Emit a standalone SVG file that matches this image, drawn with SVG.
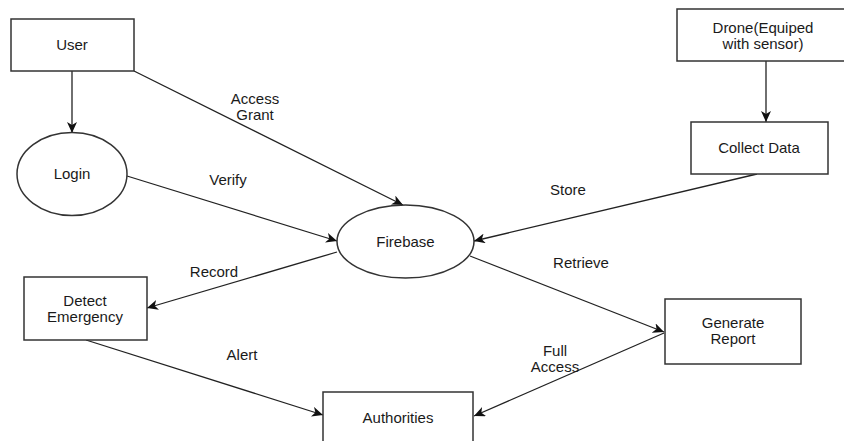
<svg xmlns="http://www.w3.org/2000/svg" width="844" height="441" viewBox="0 0 844 441">
<defs>
<marker id="arr" markerWidth="12" markerHeight="10" refX="11" refY="5" orient="auto" markerUnits="userSpaceOnUse">
<path d="M0,0 L11,5 L0,10 L3,5 Z" fill="#111"/>
</marker>
<style>
.box{fill:#fff;stroke:#333;stroke-width:1.5}
.t{font-family:"Liberation Sans",Arial,sans-serif;font-size:15px;fill:#1a1a1a;text-anchor:middle;dominant-baseline:central}
.c{fill:none;stroke:#222;stroke-width:1.3;marker-end:url(#arr)}
</style>
</defs>
<rect width="844" height="441" fill="#fff"/>
<g id="connectors">
<line class="c" x1="72" y1="71" x2="72" y2="133"/>
<line class="c" x1="134" y1="71" x2="403" y2="205"/>
<line class="c" x1="127" y1="176" x2="337" y2="241"/>
<line class="c" x1="766" y1="61" x2="766" y2="122"/>
<line class="c" x1="757" y1="174" x2="474" y2="241"/>
<line class="c" x1="337" y1="252" x2="147" y2="308"/>
<line class="c" x1="86" y1="340" x2="323" y2="415"/>
<line class="c" x1="470" y1="256" x2="664" y2="332"/>
<line class="c" x1="664" y1="333" x2="474" y2="416"/>
<text class="t" x="255" y="98">Access</text>
<text class="t" x="255" y="114">Grant</text>
<text class="t" x="228" y="179.5">Verify</text>
<text class="t" x="568" y="189.5">Store</text>
<text class="t" x="581" y="262.5">Retrieve</text>
<text class="t" x="214" y="271.5">Record</text>
<text class="t" x="242" y="354.5">Alert</text>
<text class="t" x="555" y="350">Full</text>
<text class="t" x="555" y="366">Access</text>
</g>
<g id="user"><rect class="box" x="11" y="19" width="123" height="52"/><text class="t" x="72" y="44.5">User</text></g>
<g id="login"><ellipse class="box" cx="72" cy="174" rx="55" ry="41.5"/><text class="t" x="72" y="173.5">Login</text></g>
<g id="drone"><rect class="box" x="677" y="9" width="172" height="52"/><text class="t" x="763" y="27">Drone(Equiped</text><text class="t" x="763" y="43">with sensor)</text></g>
<g id="collect"><rect class="box" x="691" y="122" width="137" height="52"/><text class="t" x="759" y="147.5">Collect Data</text></g>
<g id="firebase"><ellipse class="box" cx="405.5" cy="241.5" rx="68.5" ry="36.5"/><text class="t" x="405.5" y="241.5">Firebase</text></g>
<g id="detect"><rect class="box" x="24" y="277" width="123" height="63"/><text class="t" x="85" y="300">Detect</text><text class="t" x="85" y="316">Emergency</text></g>
<g id="report"><rect class="box" x="665" y="299" width="136" height="65"/><text class="t" x="733" y="322">Generate</text><text class="t" x="733" y="338">Report</text></g>
<g id="authorities"><rect class="box" x="323" y="392" width="150" height="60"/><text class="t" x="398" y="417.5">Authorities</text></g>
</svg>
